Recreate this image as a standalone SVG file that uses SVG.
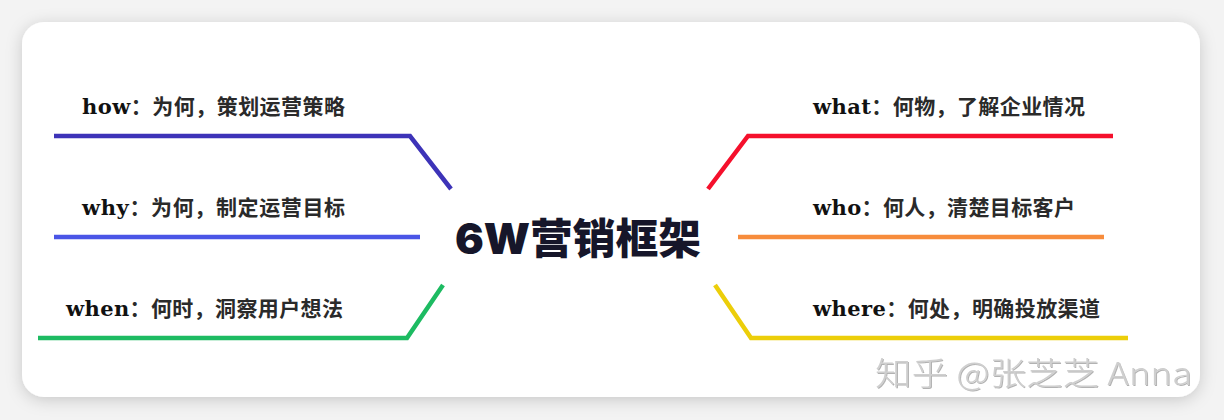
<svg xmlns="http://www.w3.org/2000/svg" width="1224" height="420" viewBox="0 0 1224 420">
<defs>
<filter id="sh" x="-5%" y="-10%" width="110%" height="125%">
<feDropShadow dx="0" dy="3" stdDeviation="8" flood-color="#000" flood-opacity="0.18"/>
</filter>
<filter id="emb" x="-5%" y="-20%" width="110%" height="140%">
<feDropShadow dx="1" dy="1" stdDeviation="0.6" flood-color="#666" flood-opacity="0.5"/>
</filter>
</defs>
<style>
.lbl{font-family:"Noto Sans CJK SC","Noto Sans",sans-serif;font-weight:bold;font-size:21px;fill:#2a2a2a}
.en{font-family:"DejaVu Serif","Liberation Serif",serif;font-weight:bold;fill:#111}
.br{fill:none;stroke-width:4.5;stroke-linejoin:miter;stroke-linecap:butt}
.title{font-family:Inter,"Noto Sans CJK SC",sans-serif;font-weight:900;font-size:42px;fill:#16162a}
.wm{font-family:"Noto Sans CJK SC","Noto Sans",sans-serif;font-weight:300;font-size:32px;fill:#cfcfcf}
</style>
<rect width="1224" height="420" fill="#f3f3f3"/>
<rect x="22" y="22" width="1178" height="375" rx="22" fill="#fff" filter="url(#sh)"/>
<g id="connectors">
<polyline class="br" stroke="#3d33b8" points="54,136 410,136 451,189"/>
<polyline class="br" stroke="#4a55e6" points="54,237 420,237"/>
<polyline class="br" stroke="#1dbb62" points="38,338 407,338 443,285"/>
<polyline class="br" stroke="#f5102c" points="708,189 748,136 1113,136"/>
<polyline class="br" stroke="#f78c3c" points="738,237 1104,237"/>
<polyline class="br" stroke="#ecce0a" points="715,285 751,338 1128,338"/>
</g>
<g id="center"><text class="title" x="578" y="254" text-anchor="middle" textLength="246" lengthAdjust="spacingAndGlyphs">6W营销框架</text></g>
<g id="how"><text class="lbl" x="82" y="114" textLength="263" lengthAdjust="spacing"><tspan class="en">how</tspan>：为何，策划运营策略</text></g>
<g id="why"><text class="lbl" x="82" y="215" textLength="263" lengthAdjust="spacing"><tspan class="en">why</tspan>：为何，制定运营目标</text></g>
<g id="when"><text class="lbl" x="66" y="316" textLength="277" lengthAdjust="spacing"><tspan class="en">when</tspan>：何时，洞察用户想法</text></g>
<g id="what"><text class="lbl" x="813" y="114" textLength="272" lengthAdjust="spacing"><tspan class="en">what</tspan>：何物，了解企业情况</text></g>
<g id="who"><text class="lbl" x="813" y="215" textLength="262" lengthAdjust="spacing"><tspan class="en">who</tspan>：何人，清楚目标客户</text></g>
<g id="where"><text class="lbl" x="813" y="316" textLength="287" lengthAdjust="spacing"><tspan class="en">where</tspan>：何处，明确投放渠道</text></g>
<g id="watermark"><text class="wm" x="875" y="385" textLength="317" lengthAdjust="spacingAndGlyphs" filter="url(#emb)">知乎 @张芝芝 Anna</text></g>
</svg>
